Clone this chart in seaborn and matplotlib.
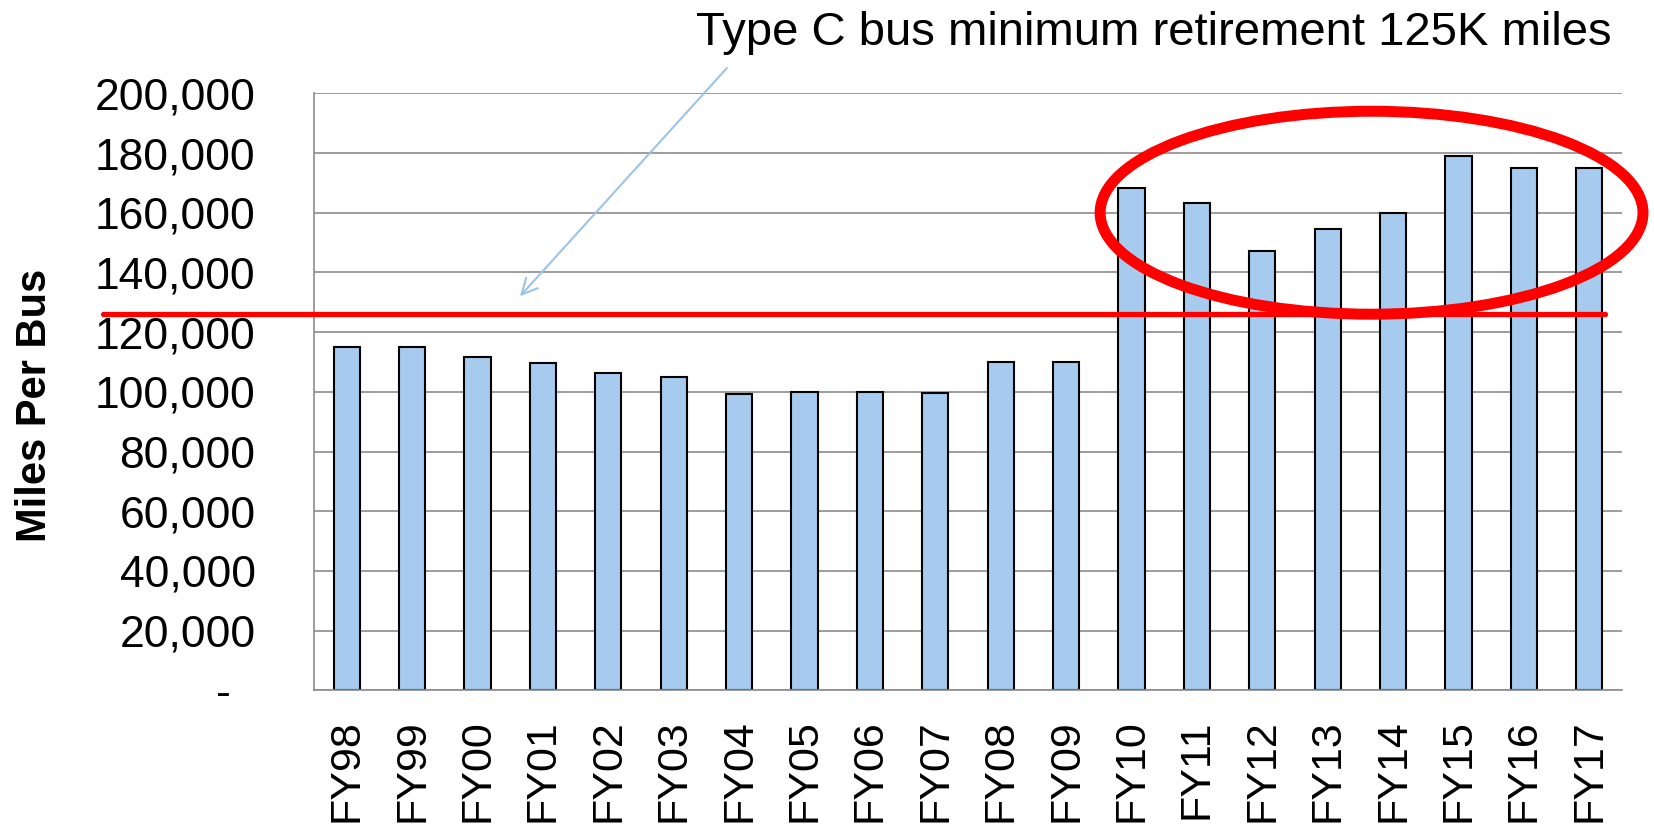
import pandas as pd
import matplotlib.pyplot as plt
import matplotlib.transforms as mtransforms
from matplotlib.patches import Ellipse
import seaborn as sns

years = ['FY98', 'FY99', 'FY00', 'FY01', 'FY02', 'FY03', 'FY04', 'FY05', 'FY06', 'FY07',
         'FY08', 'FY09', 'FY10', 'FY11', 'FY12', 'FY13', 'FY14', 'FY15', 'FY16', 'FY17']
miles = [114900, 114900, 111700, 109600, 106300, 104900, 99300, 100000, 99900, 99700,
         109900, 109900, 168400, 163200, 147100, 154700, 159800, 179000, 175100, 175000]
yticks = [0, 20000, 40000, 60000, 80000, 100000, 120000, 140000, 160000, 180000, 200000]
ytick_labels = ['-  ', '20,000', '40,000', '60,000', '80,000', '100,000', '120,000',
                '140,000', '160,000', '180,000', '200,000']
retire_line = 126000
note = 'Type C bus minimum retirement 125K miles'

df = pd.DataFrame({'year': years, 'miles': miles})

sns.set_style('white')
plt.rcParams['font.family'] = ['Liberation Sans', 'DejaVu Sans']
plt.rcParams['text.color'] = 'black'
plt.rcParams['xtick.color'] = 'black'
plt.rcParams['ytick.color'] = 'black'

fig = plt.figure(figsize=(16.54, 8.26), dpi=100)
ax = fig.add_axes([0.1898, 0.1643, 0.7909, 0.7227])

sns.barplot(data=df, x='year', y='miles', color='#A6CBEF', saturation=1,
            edgecolor='black', linewidth=1.5, width=0.4, ax=ax)

ax.set_xlim(-0.5, len(years) - 0.5)
ax.set_ylim(0, 200000)
ax.set_yticks(yticks)
ax.set_yticklabels(ytick_labels, fontsize=32)
ax.set_xlabel('')
ax.set_ylabel('')

ax.set_axisbelow(True)
ax.yaxis.grid(True, color='#8c8c8c', linewidth=1.2)
ax.xaxis.grid(False)
for s in ['top', 'right']:
    ax.spines[s].set_visible(False)
for s in ['left', 'bottom']:
    ax.spines[s].set_color('#8c8c8c')
    ax.spines[s].set_linewidth(1.2)

# excel style ticks between categories
ax.set_xticks([i + 0.5 for i in range(-1, len(years))], minor=True)
ax.tick_params(axis='x', which='minor', length=11, color='#8c8c8c', width=1.2)
ax.tick_params(axis='x', which='major', length=0, pad=21, labelsize=31, labelrotation=90,
               labelcolor='black')
ax.tick_params(axis='y', length=11, color='#8c8c8c', width=1.2, pad=31, labelcolor='black')

fig.text(0.0212, 0.5097, 'Miles Per Bus', rotation=90, ha='center', va='center',
         fontsize=30, fontweight='bold', color='black')

# red retirement line, running past the axis on the left
trans = mtransforms.blended_transform_factory(fig.transFigure, ax.transData)
ax.plot([0.0623, 0.9704], [retire_line, retire_line], color='#FF0000', lw=3.8,
        transform=trans, clip_on=False, zorder=5)

# highlight ellipse
ax.add_patch(Ellipse((15.67, 160000), 8.3, 68000, fill=False, edgecolor='#FF0000',
                     lw=7.9, clip_on=False, zorder=6))

fig.text(0.9746, 0.9455, note, ha='right', va='baseline', fontsize=34, color='black')
ax.annotate('', xy=(2.65, 132000), xycoords='data',
            xytext=(0.4395, 0.9177), textcoords='figure fraction',
            arrowprops=dict(arrowstyle='->', color='#9DC3E6', lw=1.5,
                            mutation_scale=28, shrinkA=0, shrinkB=0))

fig.savefig('out.png', dpi=100)
